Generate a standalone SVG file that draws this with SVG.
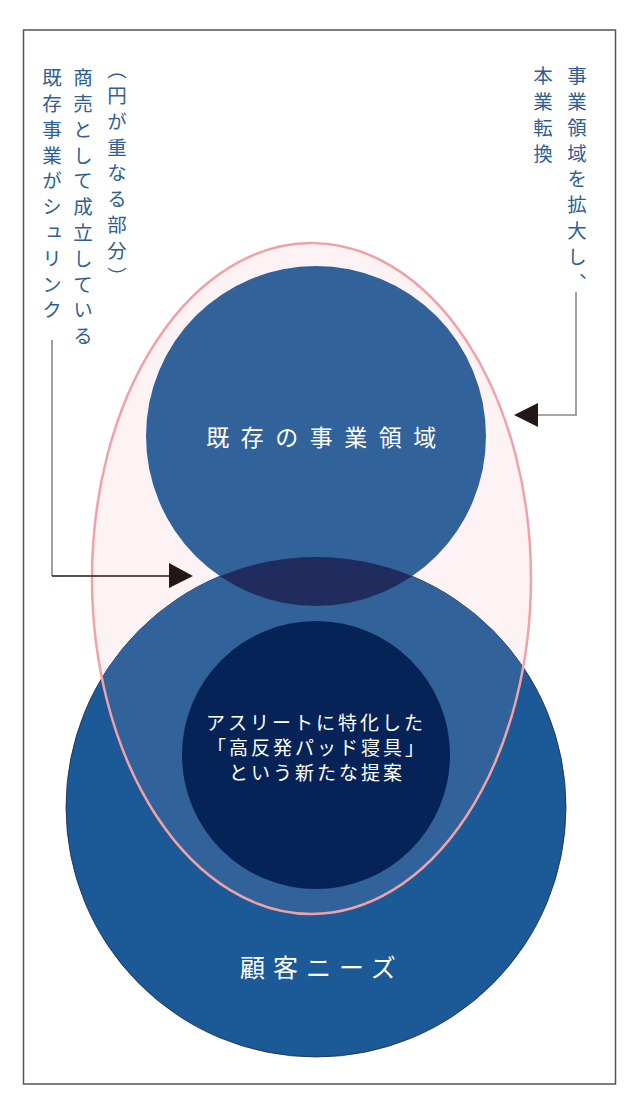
<svg xmlns="http://www.w3.org/2000/svg" width="641" height="1115" viewBox="0 0 641 1115">
<style>
.side{font-family:"Noto Sans CJK JP","Noto Sans CJK SC",sans-serif;font-weight:400;font-size:19.5px;fill:#2f5f94;writing-mode:vertical-rl;letter-spacing:6.3px}
.lbl{font-family:"Noto Sans CJK JP","Noto Sans CJK SC",sans-serif;font-weight:400;fill:#ffffff;text-anchor:middle}
.gray{stroke:#8a8a8a;stroke-width:1.6;fill:none}
.dark{stroke:#231815;stroke-width:1.4;fill:none}
.head{fill:#231815}
</style>
<defs>
<clipPath id="clipEll"><ellipse cx="311.5" cy="578.5" rx="219.5" ry="335.5"/></clipPath>
<clipPath id="clipTop"><circle cx="316" cy="436" r="170"/></clipPath>
</defs>
<rect x="0" y="0" width="641" height="1115" fill="#ffffff"/>
<rect x="23.5" y="30" width="592" height="1054" fill="#ffffff" stroke="#555555" stroke-width="1.5"/>
<g id="ellipse-fill">
<ellipse cx="311.5" cy="578.5" rx="219.5" ry="335.5" fill="#fdf3f4"/>
</g>
<g id="needs">
<circle cx="316" cy="807" r="250" fill="#1b5a96" stroke="#1d2a4a" stroke-width="0.8"/>
<circle cx="316" cy="807" r="250" fill="#31629a" clip-path="url(#clipEll)"/>
<text class="lbl" x="322" y="977" font-size="25" letter-spacing="8">顧客ニーズ</text>
</g>
<g id="existing">
<circle cx="316" cy="436" r="170" fill="#31629a"/>
<circle cx="316" cy="807" r="250" fill="#1f2c5d" clip-path="url(#clipTop)"/>
<text class="lbl" x="327" y="446" font-size="23" letter-spacing="11.5">既存の事業領域</text>
</g>
<g id="proposal">
<circle cx="316" cy="755" r="134" fill="#062357"/>
<text class="lbl" x="316" y="730" font-size="19" letter-spacing="3">アスリートに特化した</text>
<text class="lbl" x="317" y="755" font-size="19" letter-spacing="3">「高反発パッド寝具」</text>
<text class="lbl" x="317" y="780" font-size="19" letter-spacing="3">という新たな提案</text>
</g>
<g id="ellipse-stroke">
<ellipse cx="311.5" cy="578.5" rx="219.5" ry="335.5" fill="none" stroke="#f2a2a6" stroke-width="2.5"/>
</g>
<g id="connectors">
<path class="gray" d="M52 340 V576"/>
<path class="dark" d="M52 576 H172"/>
<polygon class="head" points="169,563 193,576 169,588"/>
<path class="gray" d="M576 292 V415 H536"/>
<polygon class="head" points="538,403 514,415 538,427"/>
</g>
<g id="note-left">
<text class="side" x="117" y="60">（円が重なる部分）</text>
<text class="side" x="83" y="68">商売として成立している</text>
<text class="side" x="52" y="68">既存事業がシュリンク</text>
</g>
<g id="note-right">
<text class="side" x="577" y="66">事業領域を拡大し、</text>
<text class="side" x="543" y="66">本業転換</text>
</g>
</svg>
